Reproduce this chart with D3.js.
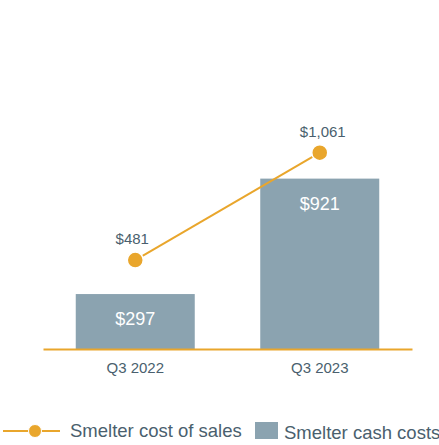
<!DOCTYPE html>
<html>
<head>
<meta charset="utf-8">
<script src="https://cdn.jsdelivr.net/npm/d3@7"></script>
<style>
  body { margin: 0; background: #fff; }
  svg { display: block; font-family: "Liberation Sans", Arial, sans-serif; }
</style>
</head>
<body>
<svg id="chart" width="439" height="445"></svg>
<script>
// values (US$ millions)
const quarters = ['Q3 2022', 'Q3 2023'];
const cashCosts = [297, 921];
const costOfSales = [481, 1061];
const legendLabels = ['Smelter cost of sales', 'Smelter cash costs'];

const orange = '#E9A62C';
const slate = '#8BA3B0';
const textCol = '#4A5F6E';

const svg = d3.select('#chart');
const baseY = 349;

const x = d3.scaleBand()
    .domain(quarters)
    .range([43, 412])
    .paddingInner(0.355)
    .paddingOuter(0.1775);

const y = d3.scaleLinear()
    .domain([0, 1000])
    .range([baseY, baseY - 185]);

const fmt = v => '$' + d3.format(',')(v);

// bars
svg.append('g').selectAll('rect')
    .data(cashCosts)
    .join('rect')
    .attr('x', (d, i) => x(quarters[i]))
    .attr('y', d => y(d))
    .attr('width', x.bandwidth())
    .attr('height', d => y(0) - y(d))
    .attr('fill', slate);

svg.append('g').selectAll('text')
    .data(cashCosts)
    .join('text')
    .attr('x', (d, i) => x(quarters[i]) + x.bandwidth() / 2)
    .attr('y', d => y(d) + 31)
    .attr('text-anchor', 'middle')
    .attr('font-size', 18)
    .attr('fill', '#fff')
    .text(fmt);

// x axis
const axis = svg.append('g')
    .attr('transform', `translate(0,${baseY})`)
    .call(d3.axisBottom(x).tickSize(0).tickPadding(0));
axis.select('.domain').attr('stroke', orange).attr('stroke-width', 2);
axis.selectAll('text')
    .attr('dy', null)
    .attr('y', 24)
    .attr('font-size', 15)
    .attr('font-family', '"Liberation Sans", Arial, sans-serif')
    .attr('fill', textCol);

// line
const cx = (d, i) => x(quarters[i]) + x.bandwidth() / 2;
const line = d3.line()
    .x((d, i) => cx(d, i))
    .y(d => y(d));

svg.append('path')
    .datum(costOfSales)
    .attr('d', line)
    .attr('fill', 'none')
    .attr('stroke', orange)
    .attr('stroke-width', 2);

svg.append('g').selectAll('circle')
    .data(costOfSales)
    .join('circle')
    .attr('cx', cx)
    .attr('cy', d => y(d))
    .attr('r', 8)
    .attr('fill', orange)
    .attr('stroke', '#fff')
    .attr('stroke-width', 1.5);

svg.append('g').selectAll('text')
    .data(costOfSales)
    .join('text')
    .attr('x', (d, i) => cx(d, i) - 3 + i * 6)
    .attr('y', d => y(d) - 16)
    .attr('text-anchor', 'middle')
    .attr('font-size', 15)
    .attr('fill', textCol)
    .text(fmt);

// legend
const lg = svg.append('g');
lg.append('line')
    .attr('x1', 3).attr('x2', 60)
    .attr('y1', 431).attr('y2', 431)
    .attr('stroke', orange).attr('stroke-width', 2);
lg.append('circle')
    .attr('cx', 35).attr('cy', 431).attr('r', 6.5)
    .attr('fill', orange)
    .attr('stroke', '#fff').attr('stroke-width', 1);
lg.append('text')
    .attr('x', 70).attr('y', 437)
    .attr('font-size', 18.5)
    .attr('fill', textCol)
    .text(legendLabels[0]);
lg.append('rect')
    .attr('x', 255).attr('y', 422)
    .attr('width', 23).attr('height', 17)
    .attr('fill', slate);
lg.append('text')
    .attr('x', 284).attr('y', 439)
    .attr('font-size', 18.5)
    .attr('fill', textCol)
    .text(legendLabels[1]);
</script>
</body>
</html>
